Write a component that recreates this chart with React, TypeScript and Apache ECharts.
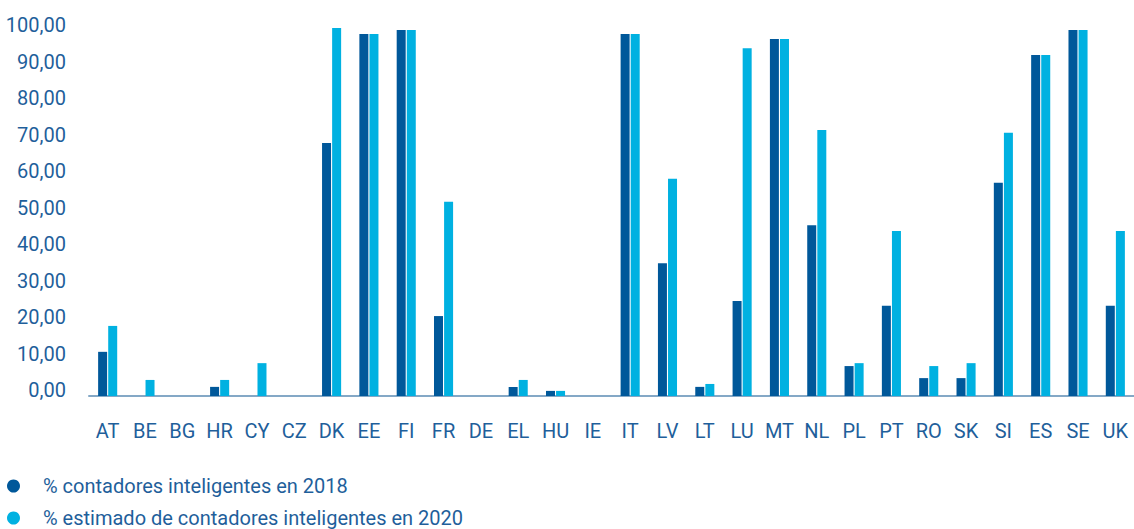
import React, { useEffect, useRef } from "react";
import * as echarts from "echarts";

const categories = ["AT","BE","BG","HR","CY","CZ","DK","EE","FI","FR","DE","EL","HU","IE","IT","LV","LT","LU","MT","NL","PL","PT","RO","SK","SI","ES","SE","UK"];
const values2018 = [12.1,0,0,2.5,0,0,69.3,99.2,100.3,21.9,0,2.5,1.4,0,99.2,36.4,2.5,26.0,97.8,46.8,8.2,24.7,4.9,4.9,58.4,93.4,100.3,24.7];
const values2020 = [19.2,4.4,0,4.4,9.0,0,100.8,99.2,100.3,53.2,0,4.4,1.4,0,99.2,59.5,3.3,95.3,97.8,72.9,9.0,45.2,8.2,9.0,72.1,93.4,100.3,45.2];
const seriesNames = ["% contadores inteligentes en 2018", "% estimado de contadores inteligentes en 2020"];
const yTicks = [0,10,20,30,40,50,60,70,80,90,100];

const DARK = "#00589a";
const LIGHT = "#00b1e1";
const TEXT = "#1f5f9b";
const FONT = "Roboto";

export default function App() {
  const ref = useRef<HTMLDivElement>(null);
  useEffect(() => {
    if (!ref.current) return;
    const chart = echarts.init(ref.current, undefined, { renderer: "svg" });
    const legendBase = {
      orient: "vertical",
      left: 7,
      padding: 0,
      icon: "circle",
      itemWidth: 13,
      itemHeight: 13,
      textStyle: { color: TEXT, fontSize: 20, fontFamily: FONT, padding: [0, 0, 0, 18] },
    };
    chart.setOption({
      animation: false,
      textStyle: { fontFamily: FONT },
      grid: { left: 89, right: 0, top: 27.35, bottom: 133 },
      legend: [
        { ...legendBase, top: 476, data: [seriesNames[0]] },
        { ...legendBase, top: 508, data: [seriesNames[1]] },
      ],
      xAxis: {
        type: "category",
        data: categories,
        offset: 15,
        axisLine: { lineStyle: { color: "#84a8c6", width: 2 } },
        axisTick: { show: false },
        axisLabel: { color: TEXT, fontSize: 20, margin: 10, fontFamily: FONT, interval: 0 },
      },
      yAxis: {
        type: "value",
        min: 0,
        max: 101,
        interval: 10,
        splitLine: { show: false },
        axisLine: { show: false },
        axisTick: { show: false },
        axisLabel: {
          color: TEXT,
          fontSize: 20,
          fontFamily: FONT,
          margin: 23,
          verticalAlign: "bottom",
          lineHeight: 12,
          formatter: (v: number) => (yTicks.indexOf(v) >= 0 ? v.toFixed(2).replace(".", ",") : ""),
        },
      },
      series: [
        { name: seriesNames[0], type: "bar", data: values2018, barWidth: 9, barGap: "12%", itemStyle: { color: DARK } },
        { name: seriesNames[1], type: "bar", data: values2020, barWidth: 9, barGap: "12%", itemStyle: { color: LIGHT } },
      ],
    });
    return () => chart.dispose();
  }, []);
  return <div ref={ref} style={{ position: "absolute", left: 0, top: 0, width: 1134, height: 529 }} />;
}
